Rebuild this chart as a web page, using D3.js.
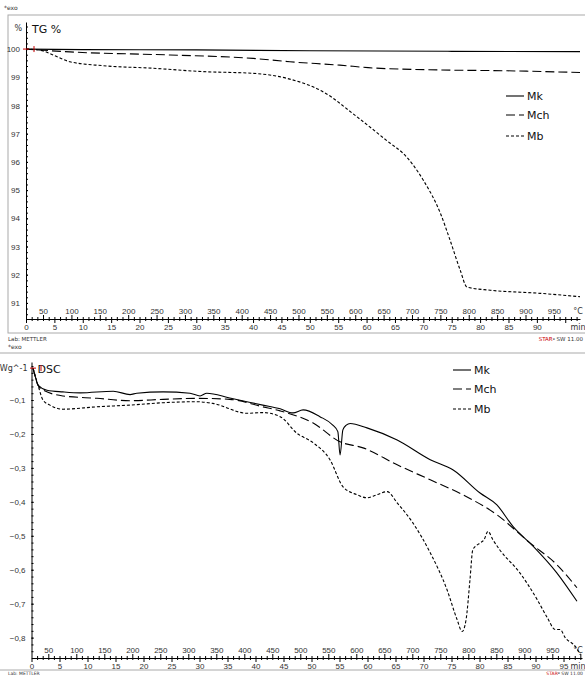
<!DOCTYPE html>
<html lang="en">
<head>
<meta charset="UTF-8">
<title>TG / DSC</title>
<script src="https://d3js.org/d3.v7.min.js"></script>
<style>
  body { margin: 0; background: #fff; }
  svg { display: block; font-family: "DejaVu Sans", Verdana, sans-serif; }
  .tick text { fill: #333; font-size: 8px; }
  .tick line, .domain { stroke: #000; }
</style>
</head>
<body>
<div id="chart"></div>
<script>
// TG curves: [time in min, mass %]
const tgMk = [[0,100],[10,99.98],[30,99.97],[50,99.94],[75,99.92],[97.6,99.91]];
const tgMch = [[0,100],[7.75,99.9],[25.4,99.79],[40,99.67],[46.5,99.55],[55.3,99.43],
  [61.1,99.33],[73,99.26],[84.8,99.23],[97.6,99.17]];
const tgMb = [[0,100],[2.5,99.96],[4.8,99.79],[7.75,99.55],[13.6,99.41],[22.4,99.32],
  [31.2,99.2],[40,99.14],[46,98.96],[52.3,98.49],[58.3,97.6],[64.1,96.67],[66.4,96.31],
  [70,95.35],[73,94.18],[74.7,93.23],[76.5,92.16],[77.7,91.56],[81.8,91.45],[90.6,91.34],[97.6,91.22]];

// DSC curves: [time in min, W/g]
const dscMk = [[0.27,-0.006],[0.6,-0.026],[1.16,-0.056],[2.77,-0.071],[5.6,-0.076],[8.7,-0.079],
  [14.6,-0.074],[17.6,-0.084],[18.8,-0.08],[23.5,-0.076],[28.3,-0.08],[30.1,-0.088],[31.3,-0.08],
  [35.4,-0.094],[41.3,-0.115],[44.4,-0.126],[46.7,-0.138],[48.5,-0.129],[51.5,-0.149],[53.8,-0.174],
  [54.7,-0.193],[55.1,-0.262],[55.6,-0.188],[56.2,-0.174],[56.9,-0.169],[59.9,-0.182],[65.3,-0.218],
  [71.2,-0.276],[75.3,-0.306],[80.1,-0.374],[83.1,-0.409],[86,-0.473],[89.6,-0.531],[93.8,-0.609],[97.4,-0.693]];
const dscMch = [[0.27,-0.006],[1.5,-0.065],[5.6,-0.088],[11.7,-0.095],[17.6,-0.102],[23.5,-0.098],
  [29.5,-0.095],[35.4,-0.098],[41.3,-0.12],[44.4,-0.132],[50.3,-0.168],[55.1,-0.223],[59.2,-0.241],
  [65.3,-0.291],[71.2,-0.335],[77,-0.379],[83.1,-0.438],[89,-0.521],[93.8,-0.585],[97.4,-0.653]];
const dscMb = [[0.27,-0.006],[1.16,-0.056],[2.05,-0.1],[3.3,-0.115],[5.6,-0.127],[11.7,-0.12],
  [17.6,-0.115],[23.5,-0.108],[29.5,-0.105],[32.4,-0.11],[38.5,-0.139],[41.3,-0.137],[44.4,-0.149],
  [47.4,-0.198],[50.3,-0.226],[53.3,-0.276],[55.6,-0.355],[58.1,-0.379],[59.9,-0.388],[61.7,-0.379],
  [63.5,-0.37],[65.3,-0.403],[68.1,-0.462],[71.2,-0.55],[74.2,-0.659],[76,-0.747],[76.9,-0.782],
  [77.6,-0.747],[78.3,-0.629],[78.8,-0.541],[80.1,-0.521],[80.8,-0.512],[81.5,-0.487],[82.4,-0.512],
  [83.6,-0.541],[87.2,-0.609],[90.3,-0.688],[92.1,-0.741],[93.5,-0.776],[94.4,-0.776],[95.3,-0.8],
  [97.1,-0.826],[98,-0.85]];

const seriesNames = ["Mk", "Mch", "Mb"];
const dashes = [null, "9,4", "3,2"];
const tgYTicks = d3.range(91, 101, 1);
const dscYTicks = [-0.8, -0.7, -0.6, -0.5, -0.4, -0.3, -0.2, -0.1];

const W = 585, H = 675;
const svg = d3.select("#chart").append("svg").attr("width", W).attr("height", H);

// temperature = 20 + 10 * time
const toTemp = t => 20 + 10 * t;

function panel(o) {
  const g = svg.append("g");
  g.append("rect").attr("x", o.frame[0]).attr("y", o.frame[1])
    .attr("width", o.frame[2]).attr("height", o.frame[3])
    .attr("fill", "none").attr("stroke", "#aaa");

  const x = d3.scaleLinear().domain([0, o.tMax]).range([o.x0, o.x1]);
  const xT = d3.scaleLinear().domain([toTemp(0), toTemp(o.tMax)]).range([o.x0, o.x1]);
  const y = d3.scaleLinear().domain(o.yDomain).range([o.yBottom, o.yTop]);

  // y axis, minor then major
  g.append("g").attr("transform", `translate(${o.x0},0)`)
    .call(d3.axisLeft(y).tickValues(o.minor).tickSize(2).tickFormat("").tickSizeOuter(0))
    .call(a => a.selectAll(".tick line").attr("x2", 2));
  g.append("g").attr("transform", `translate(${o.x0},0)`)
    .call(d3.axisLeft(y).tickValues(o.yTicks).tickSize(4).tickPadding(2).tickFormat(o.fmt).tickSizeOuter(0))
    .call(a => a.select(".domain").remove())
    .call(a => a.selectAll(".tick line").attr("x2", 2));

  // time axis below, temperature axis above
  const lastT = o.tMax - 3;
  g.append("g").attr("transform", `translate(0,${o.yBottom})`)
    .call(d3.axisBottom(x).tickValues(d3.range(0, o.tMax, 1)).tickSize(2).tickPadding(3).tickSizeOuter(0)
      .tickFormat(d => d % 5 === 0 && d < lastT ? d : ""))
    .call(a => a.selectAll(".tick").filter(d => d % 5 === 0).select("line").attr("y2", 4));
  g.append("g").attr("transform", `translate(0,${o.yBottom})`)
    .call(d3.axisTop(xT).tickValues(d3.range(30, toTemp(o.tMax), 10)).tickSize(2).tickPadding(3).tickSizeOuter(0)
      .tickFormat(d => d % 50 === 0 && d <= 950 ? d : ""))
    .call(a => a.select(".domain").remove())
    .call(a => a.selectAll(".tick").filter(d => d % 50 === 0).select("line").attr("y2", -4));

  g.append("text").attr("x", 578).attr("y", o.yBottom + 11).attr("text-anchor", "middle")
    .attr("font-size", 8).attr("fill", "#333").text("min");
  g.append("text").attr("x", 578).attr("y", o.yBottom - 5).attr("text-anchor", "middle")
    .attr("font-size", 8).attr("fill", "#333").text("°C");

  g.append("text").attr("x", o.x0 - 4).attr("y", o.yTop + 9).attr("text-anchor", "end")
    .attr("font-size", 8).attr("fill", "#333").text(o.unit);
  g.append("text").attr("x", o.x0 + 6).attr("y", o.yTop + 11)
    .attr("font-size", 11).attr("fill", "#111").text(o.title);

  const line = d3.line().x(d => x(d[0])).y(d => y(d[1])).curve(d3.curveMonotoneX);
  o.data.forEach((s, i) => {
    g.append("path").datum(s).attr("d", line).attr("fill", "none")
      .attr("stroke", "#000").attr("stroke-width", 1.1)
      .attr("stroke-dasharray", dashes[i]);
  });
  // red start marker
  const s0 = o.data[0][0];
  g.append("path").attr("d", `M${x(s0[0]) - 3},${y(s0[1])}h6M${x(s0[0]) + 8},${y(s0[1]) - 3}v6`)
    .attr("stroke", "#c00").attr("stroke-width", 1);

  // legend
  seriesNames.forEach((n, i) => {
    const ly = o.legend[1] + o.legendStep[i];
    g.append("line").attr("x1", o.legend[0]).attr("x2", o.legend[0] + 18)
      .attr("y1", ly).attr("y2", ly).attr("stroke", "#000").attr("stroke-width", 1.1)
      .attr("stroke-dasharray", dashes[i]);
    g.append("text").attr("x", o.legend[0] + 21).attr("y", ly + 4)
      .attr("font-size", 11).attr("fill", "#111").text(n);
  });

  // footer
  const fy = Math.min(o.frame[1] + o.frame[3] + 8, H);
  const fs = fy >= H ? 4.5 : 5.5;
  g.append("text").attr("x", 8).attr("y", fy)
    .attr("font-size", fs).attr("fill", "#333").text("Lab: METTLER");
  const st = g.append("text").attr("x", 583).attr("y", fy)
    .attr("text-anchor", "end").attr("font-size", fs).attr("fill", "#333");
  st.append("tspan").attr("fill", "#c00").text("STAR");
  st.append("tspan").attr("font-size", 3.5).attr("dy", -1.5).text("e");
  st.append("tspan").attr("dy", 1.5).text(" SW 11.00");
}

svg.append("text").attr("x", 4).attr("y", 10).attr("font-size", 6).attr("fill", "#333").text("*exo");
svg.append("text").attr("x", 8).attr("y", 349).attr("font-size", 6).attr("fill", "#333").text("*exo");

panel({
  frame: [8, 15, 590, 318], x0: 26, x1: 580, tMax: 97.6,
  yDomain: [90.43, 100.96], yTop: 22, yBottom: 319,
  yTicks: tgYTicks, minor: d3.range(90.6, 100.96, 0.2), fmt: d3.format("d"),
  unit: "%", title: "TG %", data: [tgMk, tgMch, tgMb],
  legend: [506, 96], legendStep: [0, 19, 40]
});

panel({
  frame: [-1, 353, 600, 317], x0: 31.5, x1: 582, tMax: 98.3,
  yDomain: [-0.86, 0.012], yTop: 362, yBottom: 658,
  yTicks: dscYTicks, minor: d3.range(-0.84, 0.012, 0.02), fmt: d => d3.format(".1f")(d).replace(".", ","),
  unit: "Wg^-1", title: "DSC", data: [dscMk, dscMch, dscMb],
  legend: [453, 370], legendStep: [0, 19, 39]
});
</script>
</body>
</html>
